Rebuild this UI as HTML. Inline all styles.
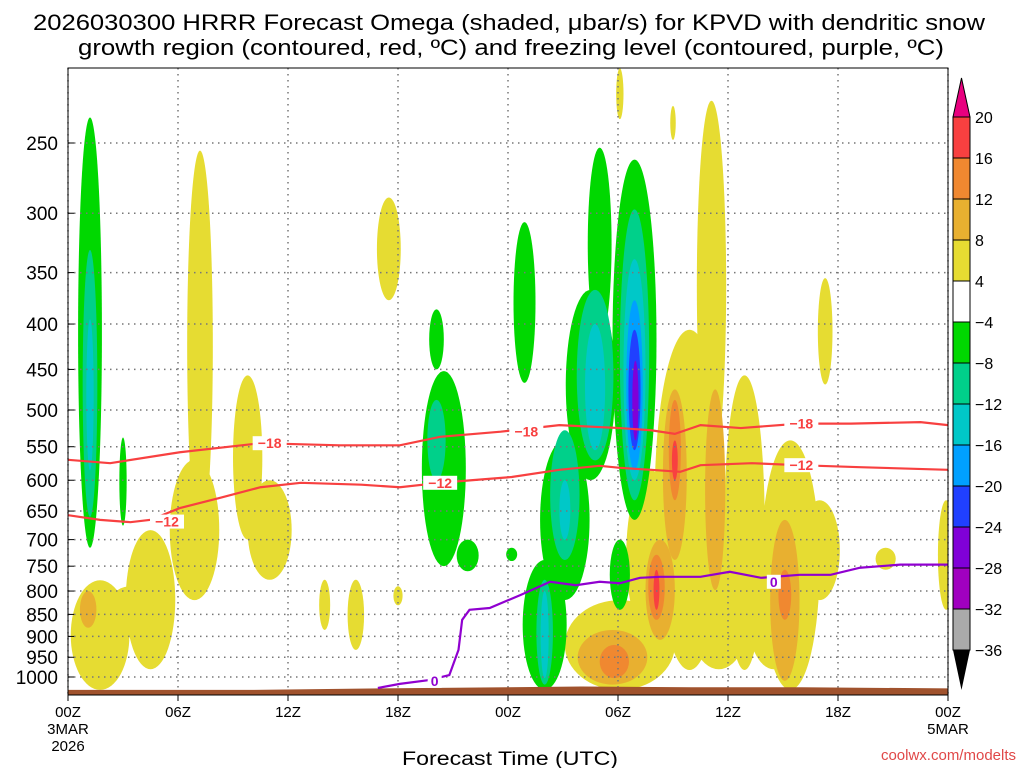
<!DOCTYPE html>
<html><head><meta charset="utf-8"><style>
body{margin:0;background:#fff;}
svg{display:block;font-family:"Liberation Sans","DejaVu Sans",sans-serif;}
</style></head><body>
<svg id="c" width="1024" height="768" viewBox="0 0 1024 768">
<g id="title">
<text x="33" y="30" font-size="22" fill="#000" textLength="952" lengthAdjust="spacingAndGlyphs">2026030300 HRRR Forecast Omega (shaded, μbar/s) for KPVD with dendritic snow</text>
<text x="78" y="55" font-size="22" fill="#000" textLength="866" lengthAdjust="spacingAndGlyphs">growth region (contoured, red, ºC) and freezing level (contoured, purple, ºC)</text>
</g>
<defs><clipPath id="pc"><rect x="68" y="68" width="880" height="627"/></clipPath></defs>
<g id="fills" clip-path="url(#pc)"></g>
<g id="grid"></g>
<g id="ground" clip-path="url(#pc)"></g>
<g id="lines" clip-path="url(#pc)"></g>
<rect x="68" y="68" width="880" height="627" fill="none" stroke="#000" stroke-width="1"/>
<g id="yaxis"></g>
<g id="xaxis"></g>
<text x="510" y="765" text-anchor="middle" font-size="19" textLength="216" lengthAdjust="spacingAndGlyphs">Forecast Time (UTC)</text>
<text x="1016" y="760" text-anchor="end" font-size="15" fill="#e04848">coolwx.com/modelts</text>
<g id="cbar"></g>
</svg>
<script>
const pTicks=[250,300,350,400,450,500,550,600,650,700,750,800,850,900,950,1000];
const xTickHours=[0,6,12,18,24,30,36,42,48];
const xTickLabels=["00Z","06Z","12Z","18Z","00Z","06Z","12Z","18Z","00Z"];
const levelColors={"-36":"#aaaaaa","-28":"#a000c0","-24":"#8000d8","-20":"#2040ff","-16":"#00a0ff","-12":"#00c8c8","-8":"#00d08a","-4":"#00d800","4":"#e6dc32","8":"#e8b030","12":"#f08830","16":"#f84040"};
const cbLevels=[20,16,12,8,4,-4,-8,-12,-16,-20,-24,-28,-32,-36];
const cbColors=["#f84040","#f08830","#e8b030","#e6dc32","#ffffff","#00d800","#00d08a","#00c8c8","#00a0ff","#2040ff","#8000d8","#a000c0","#aaaaaa"];
// blobs: level, hour, pTop, pBottom, halfWidthHours
const blobLevel=[4,4,4,4,4,4,4,4,4,4,4,4,4,4,4,4,4,4,4,4,4,4,4,4,4,8,8,8,8,8,8,12,12,12,12,16,16,
 -4,-4,-4,-4,-4,-4,-4,-4,-4,-4,-4,-4,-4,-8,-8,-8,-8,-8,-8,-12,-12,-12,-12,-12,-16,-20,-24];
const blobHour=[7.2,6.9,1.75,4.5,3.4,9.8,11,17.5,14,15.7,18,35.1,33.9,31.8,30.1,36.9,39.4,41.3,41,44.6,47.9,33,30.1,35.5,38.5,33.1,32.3,29.7,35.3,39.1,1.1,33.1,32.1,29.8,39.1,33.1,32.1,
 1.2,3.0,20.1,20.5,24.2,24.9,29.0,28.5,27.1,26.0,30.9,30.1,21.8,1.2,20.1,28.75,27.1,26.0,30.9,1.2,28.75,27.1,26.0,30.9,30.9,30.9,30.95];
const blobTop=[255,569,778,683,790,457,600,288,777,777,790,224,406,585,819,457,541,355,632,715,632,227,206,650,720,474,700,885,474,665,800,487,728,920,757,541,757,
 234,537,385,452,715,307,253,366,540,738,261,700,700,330,487,366,527,777,297,395,400,600,800,338,376,406,440];
const blobBot=[700,819,1034,980,900,700,777,376,885,932,830,585,982,908,1034,982,1034,468,819,757,840,248,235,980,980,738,908,1020,798,1010,880,632,862,1003,862,600,840,
 715,675,450,750,740,466,417,600,819,1034,665,840,760,660,600,570,738,1020,632,585,555,700,1003,600,585,555,541];
const blobHalfW=[0.7,1.35,1.6,1.35,1.3,0.8,1.2,0.65,0.3,0.45,0.25,0.8,1.9,1.35,3,1.1,1.6,0.4,1.1,0.55,0.45,0.15,0.2,2,1.5,0.65,0.8,1.9,0.55,0.8,0.45,0.33,0.45,0.8,0.35,0.16,0.16,
 0.65,0.2,0.4,1.2,0.3,0.6,0.65,1.35,1.35,1.2,1.2,0.55,0.6,0.4,0.5,1.0,0.8,0.45,0.8,0.2,0.55,0.3,0.22,0.6,0.45,0.33,0.17];
// contours
const c18Hours=[0,2.3,6.1,10.5,14.8,18.1,20.3,23.6,26.8,30.1,31.8,33.1,34.5,36.7,39.9,42.7,46.5,48];
const c18P=[569,574,558,545,548,548,536,529,520,524,527,532,520,524,518,518,516,520];
const c12Hours=[0,1.75,3.4,4.5,6.1,8.3,10.5,12.7,16,18.1,20.3,22,24.2,26.8,29,30.1,31.8,33.4,34.5,37.3,39.9,43.2,48];
const c12P=[657,665,669,665,645,628,611,604,607,611,604,600,595,584,578,581,584,587,577,574,577,580,584];
const c0Hours=[16.9,18.1,19.7,20.8,21.3,21.5,21.9,23.0,24.7,26.3,27.7,29.0,30.1,31.2,32.3,34.5,36.1,37.8,39.9,41.6,43.2,45.4,48];
const c0P=[1029,1018,1008,995,932,862,840,836,808,781,788,781,784,773,771,771,761,773,767,767,753,747,747];
const groundHours=[0,10,17,24,28,34,40,48];
const groundP=[1034,1034,1030,1027,1025,1027,1027,1030];

const NS="http://www.w3.org/2000/svg";
const X=h=>68+h*880/48;
const Y=p=>677-385.2*Math.log(1000/p);
function mk(tag,attrs,parent){const e=document.createElementNS(NS,tag);for(const k in attrs)e.setAttribute(k,attrs[k]);parent.appendChild(e);return e;}
const fills=document.getElementById('fills');
const order=blobLevel.map((l,i)=>i).sort((a,b)=>Math.abs(blobLevel[a])-Math.abs(blobLevel[b]));
order.forEach(i=>{
 const cx=X(blobHour[i]),y1=Y(blobTop[i]),y2=Y(blobBot[i]),rx=blobHalfW[i]*880/48;
 const e=mk('ellipse',{cx:cx,cy:(y1+y2)/2,rx:rx,ry:(y2-y1)/2,fill:levelColors[String(blobLevel[i])]},fills);
 
 
});
const grid=document.getElementById('grid');
pTicks.forEach(p=>{const l=mk('line',{x1:68,x2:948,y1:Y(p),y2:Y(p),stroke:'#777','stroke-dasharray':'1.5 4.5','stroke-width':1.5},grid);
 
 });
xTickHours.forEach(h=>{const l=mk('line',{x1:X(h),x2:X(h),y1:68,y2:695,stroke:'#777','stroke-dasharray':'1.5 4.5','stroke-width':1.5},grid);
 
 });
let gd='M'+X(groundHours[0])+','+Y(groundP[0]);
groundHours.forEach((h,i)=>gd+=' L'+X(h)+','+Y(groundP[i]));
gd+=' L948,700 L68,700 Z';
const g=mk('path',{d:gd,fill:'#a0522d'},document.getElementById('ground'));


const lines=document.getElementById('lines');
function drawLine(hs,ps,col,name){let d='';hs.forEach((h,i)=>d+=(i?' L':'M')+X(h)+','+Y(ps[i]));
 const e=mk('path',{d:d,fill:'none',stroke:col,'stroke-width':2.2},lines);
 
 }
drawLine(c18Hours,c18P,'#f84040','contour-minus18');
drawLine(c12Hours,c12P,'#f84040','contour-minus12');
drawLine(c0Hours,c0P,'#9000d0','contour-freezing-0');
function lab(h,p,t,col){const x=X(h),y=Y(p);
 const r=mk('rect',{x:x-t.length*5-2,y:y-7,width:t.length*10+4,height:14,fill:'#fff'},lines);
 
 
 const e=mk('text',{x:x,y:y+5,'text-anchor':'middle','font-size':14,'font-weight':'bold',fill:col},lines);e.textContent=t;
 
 }
lab(11,545,'−18','#f84040');lab(25,529,'−18','#f84040');lab(40,518,'−18','#f84040');
lab(5.4,668,'−12','#f84040');lab(20.3,604,'−12','#f84040');lab(40,577,'−12','#f84040');
lab(20,1010,'0','#9000d0');lab(38.5,781,'0','#9000d0');
const ya=document.getElementById('yaxis');
pTicks.forEach(p=>{const t=mk('text',{x:58,y:Y(p)+7,'text-anchor':'end','font-size':19},ya);t.textContent=p;
 
 
 const l=mk('line',{x1:68,x2:74,y1:Y(p),y2:Y(p),stroke:'#000'},ya);
 
 });
const xa=document.getElementById('xaxis');
xTickHours.forEach((h,i)=>{const t=mk('text',{x:X(h),y:717,'text-anchor':'middle','font-size':15},xa);t.textContent=xTickLabels[i];
 
 
 const l=mk('line',{x1:X(h),x2:X(h),y1:695,y2:701,stroke:'#000'},xa);
 
 });
[[0,'3MAR',734],[0,'2026',751],[48,'5MAR',734]].forEach(a=>{const t=mk('text',{x:X(a[0]),y:a[2],'text-anchor':'middle','font-size':15},xa);t.textContent=a[1];
 
 });
const cb=document.getElementById('cbar');
const cbX=953,cbW=17,cbTop=117,step=41;
let e=mk('polygon',{points:`${cbX},${cbTop} ${cbX+cbW},${cbTop} ${cbX+cbW/2},78`,fill:'#e8007f',stroke:'#000'},cb);


cbColors.forEach((c,i)=>{const r=mk('rect',{x:cbX,y:cbTop+i*step,width:cbW,height:step,fill:c,stroke:'#000','stroke-width':1},cb);
 
 });
const cbBot=cbTop+cbColors.length*step;
e=mk('polygon',{points:`${cbX},${cbBot} ${cbX+cbW},${cbBot} ${cbX+cbW/2},690`,fill:'#000'},cb);


cbLevels.forEach((v,i)=>{const t=mk('text',{x:975,y:cbTop+i*step+6,'font-size':16},cb);t.textContent=(v<0?'−'+(-v):String(v));
 
 });
</script>
</body></html>
